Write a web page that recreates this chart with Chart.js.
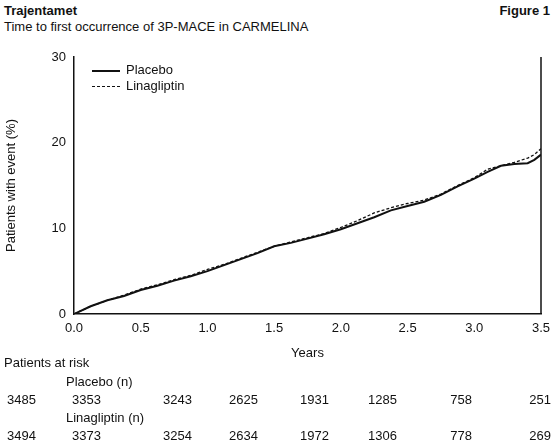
<!DOCTYPE html>
<html><head><meta charset="utf-8">
<script src="https://cdn.jsdelivr.net/npm/chart.js@4"></script>
<style>
body{margin:0;width:556px;height:447px;background:#fff;position:relative;overflow:hidden;
 font-family:"Liberation Sans",Arial,sans-serif;color:#111;font-size:13px}
.t{position:absolute;white-space:nowrap}
#c{position:absolute;left:0;top:45px}
.ln{display:inline-block;width:28px;vertical-align:middle;margin-right:6px}
</style></head><body>
<div class="t" style="left:4px;top:3px;font-weight:bold">Trajentamet</div>
<div class="t" style="right:6px;top:3px;font-weight:bold">Figure 1</div>
<div class="t" style="left:4px;top:19px">Time to first occurrence of 3P-MACE in CARMELINA</div>
<canvas id="c" width="556" height="320"></canvas>
<div class="t" style="left:92px;top:62px;line-height:16px">
 <div><span class="ln" style="border-top:2px solid #111"></span>Placebo</div>
 <div><span class="ln" style="border-top:1.5px dashed #111"></span>Linagliptin</div>
</div>
<div class="t" style="left:4px;top:355px">Patients at risk</div>
<div class="t" style="left:66px;top:374px">Placebo (n)</div>
<div class="t" style="left:66px;top:410px">Linagliptin (n)</div>
<div id="risk"></div>
<script>
const years = [0,0.125,0.25,0.375,0.5,0.625,0.75,0.875,1.0,1.125,1.25,1.375,1.5,1.625,1.75,1.875,2.0,2.125,2.25,2.375,2.5,2.625,2.75,2.875,3.0,3.1,3.2,3.3,3.4,3.45,3.5];
const placebo = [0,0.9,1.6,2.1,2.8,3.3,3.9,4.4,5.0,5.7,6.4,7.1,7.9,8.3,8.8,9.3,9.9,10.6,11.3,12.1,12.6,13.1,13.9,14.9,15.8,16.6,17.3,17.5,17.6,18.0,18.6];
const linagliptin = [0,0.9,1.6,2.2,2.9,3.4,4.0,4.5,5.2,5.8,6.5,7.2,7.9,8.4,8.9,9.4,10.1,10.9,11.8,12.4,12.9,13.3,14.0,15.0,15.9,16.9,17.3,17.7,18.2,18.6,19.3];
const xTicks = [0,0.5,1.0,1.5,2.0,2.5,3.0,3.5];
const yTicks = [0,10,20,30];
const riskPlacebo = [3485,3353,3243,2625,1931,1285,758,251];
const riskLina = [3494,3373,3254,2634,1972,1306,778,269];
const riskX = [36,101,192,258,329,397,472,551];

let h='';
riskX.forEach((x,i)=>{
  h+=`<div class="t" style="right:${556-x}px;top:392px">${riskPlacebo[i]}</div>`;
  h+=`<div class="t" style="right:${556-x}px;top:428px">${riskLina[i]}</div>`;
});
document.getElementById('risk').innerHTML=h;

const pts = v => years.map((x,i)=>({x:x,y:v[i]}));
const font = {family:'"Liberation Sans",Arial,sans-serif',size:13};
const rightBorder = {id:'rb',afterDraw(c){const a=c.chartArea,x=c.ctx;x.save();x.strokeStyle='#111';x.lineWidth=1.5;
  x.beginPath();x.moveTo(a.right,a.top);x.lineTo(a.right,a.bottom);x.stroke();x.restore();}};
new Chart(document.getElementById('c'),{
  type:'line',
  data:{datasets:[
    {label:'Placebo',data:pts(placebo),borderColor:'#111',borderWidth:2,pointRadius:0},
    {label:'Linagliptin',data:pts(linagliptin),borderColor:'#111',borderWidth:1.3,borderDash:[3,2],pointRadius:0}
  ]},
  options:{responsive:false,animation:false,
    layout:{padding:{left:0,right:15,top:12,bottom:0}},
    plugins:{legend:{display:false},tooltip:{enabled:false}},
    scales:{
      x:{type:'linear',min:0,max:3.5,afterFit(s){s.height=51;},
        afterBuildTicks(s){s.ticks=xTicks.map(v=>({value:v}));},
        ticks:{color:'#111',font,padding:2,callback:v=>v.toFixed(1),maxRotation:0},
        grid:{display:false,drawTicks:true,tickLength:5,color:'#111'},
        border:{color:'#111',width:1.5},
        title:{display:true,text:'Years',color:'#111',font,padding:{top:2}}},
      y:{min:0,max:30,afterFit(s){s.width=74;},
        afterBuildTicks(s){s.ticks=yTicks.map(v=>({value:v}));},
        ticks:{color:'#111',font,padding:3},
        grid:{display:false,drawTicks:true,tickLength:5,color:'#111'},
        border:{color:'#111',width:1.5},
        title:{display:true,text:'Patients with event (%)',color:'#111',font,padding:{bottom:6}}}
    }},
  plugins:[rightBorder]
});
</script></body></html>
